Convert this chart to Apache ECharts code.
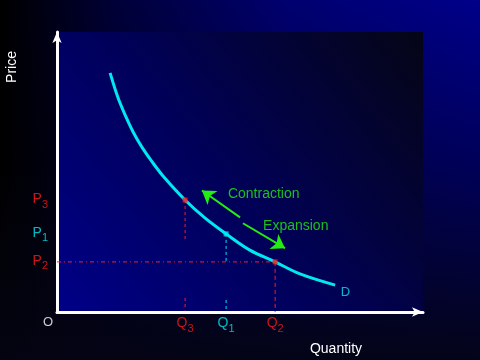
<!DOCTYPE html>
<html><head><meta charset="utf-8">
<script src="https://cdn.jsdelivr.net/npm/echarts@6/dist/echarts.min.js"></script>
<style>
html,body{margin:0;padding:0;}
#c{width:480px;height:360px;background:linear-gradient(to bottom, rgba(0,0,0,0) 0%, rgba(0,0,0,0.35) 45%, rgba(4,4,18,0.95) 100%), linear-gradient(to right, #000 0%, #00003a 25%, #000070 60%, #00008a 100%);}
</style></head>
<body><div id="c"></div>
<script>
// demand curve
const curveX = [1.45,1.67,1.86,2.08,2.32,2.60,2.92,3.50,4.04,4.62,5.27,5.96,6.64,7.60];
const curveY = [8.54,7.64,7.04,6.43,5.89,5.36,4.82,4.00,3.36,2.79,2.21,1.79,1.36,0.96];
// marked points
const pointNames = ['3','1','2'];
const pointQ = [3.50,4.62,5.96];
const pointP = [4.00,2.79,1.79];
// partial guide segments (y ranges) for Q3 and Q1
const q3Guides = [[4.00,2.58],[0.50,0.05]];
const q1Guides = [[2.79,1.75],[0.43,0.05]];
// arrows [fromX, fromY, toX, toY]
const contractionArrow = [5.00,3.38,3.96,4.34];
const expansionArrow = [5.08,3.17,6.23,2.28];
// text anchors
const contractionText = [4.67,4.20];
const expansionText = [5.63,3.06];
const dLabel = [7.75,0.71];

const RED = '#ff1a1a', CYAN = '#00e8f0', GREEN = '#22ee11';
const font = 'Liberation Sans, Arial, sans-serif';
const chart = echarts.init(document.getElementById('c'), null, {renderer:'canvas'});

const colors = [RED, CYAN, RED];
const rich = {
  m:{fontSize:14, fontFamily:font, lineHeight:16, verticalAlign:'top'},
  s:{fontSize:11, fontFamily:font, lineHeight:11, padding:[7,0,0,0], verticalAlign:'top'}
};
function richFor(c){
  return {m:Object.assign({},rich.m,{color:c}), s:Object.assign({},rich.s,{color:c})};
}

const series = [];
// guides
function seg(data, color, type){
  series.push({type:'line', data:data, symbol:'none', silent:true, z:2,
    lineStyle:{color:color, width:1, type:type}});
}
q3Guides.forEach(g => seg([[pointQ[0],g[0]],[pointQ[0],g[1]]], RED, [3,3]));
q1Guides.forEach(g => seg([[pointQ[1],g[0]],[pointQ[1],g[1]]], CYAN, [3,3]));
seg([[0,pointP[2]],[pointQ[2],pointP[2]]], RED, [4,3,1,3]);
seg([[pointQ[2],pointP[2]],[pointQ[2],0]], RED, [4,3]);

// curve
series.push({type:'line', smooth:0.35, symbol:'none', z:3,
  data: curveX.map((x,i)=>[x,curveY[i]]),
  lineStyle:{color:CYAN, width:3}});

// points
series.push({type:'scatter', symbol:'rect', symbolSize:5, z:5,
  data: pointQ.map((q,i)=>({value:[q,pointP[i]], itemStyle:{color:colors[i]}}))});

// P labels
series.push({type:'scatter', symbolSize:0, z:6, silent:true,
  data: pointP.map((p,i)=>({value:[0,p], label:{show:true, position:'left', distance:9,
    formatter:'{m|P}{s|'+pointNames[i]+'}', rich:richFor(colors[i])}}))});
// Q labels
series.push({type:'scatter', symbolSize:0, z:6, silent:true,
  data: pointQ.map((q,i)=>({value:[q,0], label:{show:true, position:'bottom', distance:4,
    formatter:'{m|Q}{s|'+pointNames[i]+'}', rich:richFor(colors[i])}}))});
// O, D, texts
series.push({type:'scatter', symbolSize:0, z:6, silent:true,
  data:[
    {value:[0,0], label:{show:true, position:'bottom', offset:[-9,0], distance:4, formatter:'O', color:'#fff', fontSize:13, fontFamily:font}},
    {value:dLabel, label:{show:true, position:'right', distance:0, formatter:'D', color:CYAN, fontSize:13, fontFamily:font}},
    {value:contractionText, label:{show:true, position:'right', distance:0, formatter:'Contraction', color:GREEN, fontSize:14, fontFamily:font}},
    {value:expansionText, label:{show:true, position:'right', distance:0, formatter:'Expansion', color:GREEN, fontSize:14, fontFamily:font}}
  ]});

// arrows
series.push({type:'lines', coordinateSystem:'cartesian2d', z:4, silent:true,
  symbol:['none','arrow'], symbolSize:13,
  lineStyle:{color:GREEN, width:2, opacity:1},
  data:[
    {coords:[[contractionArrow[0],contractionArrow[1]],[contractionArrow[2],contractionArrow[3]]]},
    {coords:[[expansionArrow[0],expansionArrow[1]],[expansionArrow[2],expansionArrow[3]]]}
  ]});

const axisCommon = {
  type:'value', min:0, max:10,
  axisLine:{show:true, onZero:false, symbol:['none','arrow'], symbolSize:[7,11],
    lineStyle:{color:'#ffffff', width:3}},
  axisTick:{show:false}, axisLabel:{show:false}, splitLine:{show:false}
};

chart.setOption({
  animation:false,
  backgroundColor:'transparent',
  grid:{left:57, right:57, top:32, bottom:48, show:true, borderWidth:0,
    backgroundColor:new echarts.graphic.LinearGradient(0,1,1,0,[
      {offset:0, color:'#000088'},{offset:0.45,color:'#00005a'},{offset:1, color:'#050516'}])},
  xAxis:Object.assign({}, axisCommon),
  yAxis:Object.assign({}, axisCommon),
  graphic:[
    {type:'text', x:12, y:67, rotation:Math.PI/2, style:{text:'Price', fill:'#fff', font:'14px '+font, textAlign:'center', textVerticalAlign:'middle'}},
    {type:'text', x:336, y:349, style:{text:'Quantity', fill:'#fff', font:'14px '+font, textAlign:'center', textVerticalAlign:'middle'}}
  ],
  series:series
});
</script>
</body></html>
